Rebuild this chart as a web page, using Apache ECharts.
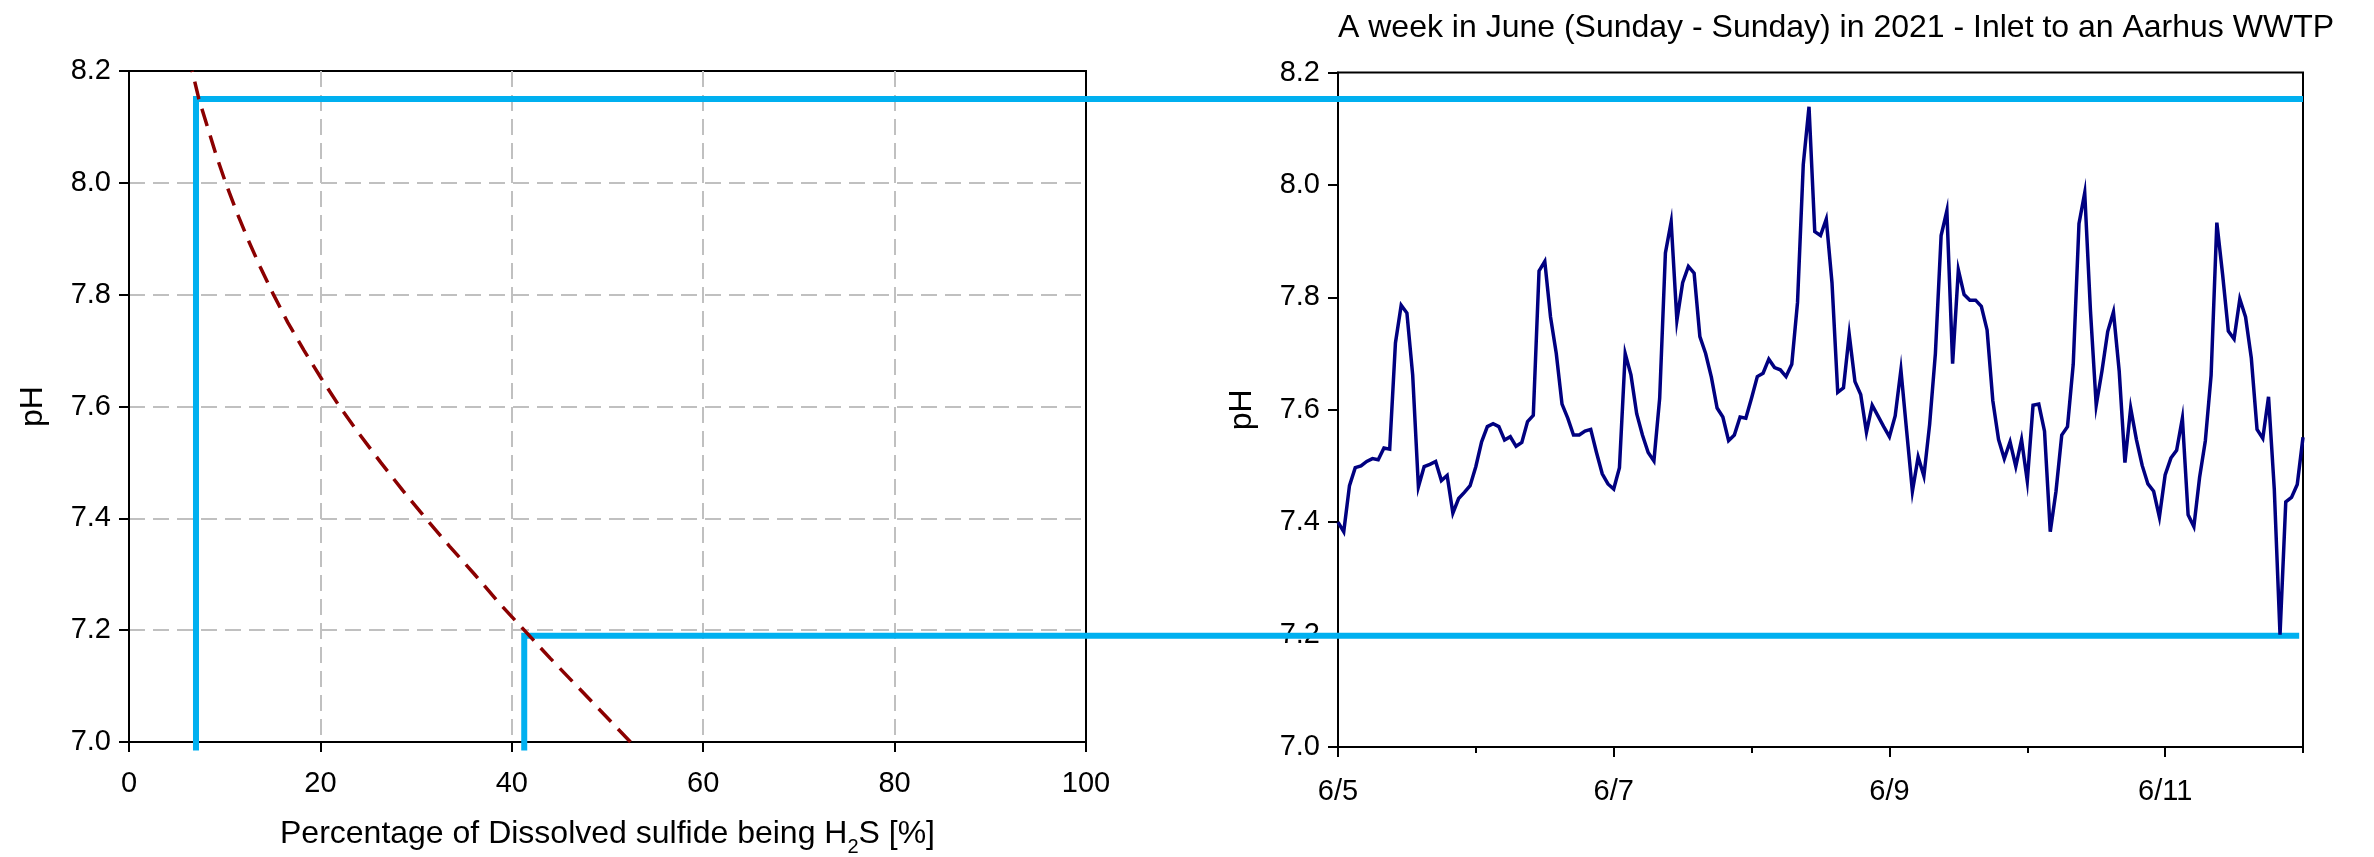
<!DOCTYPE html>
<html>
<head>
<meta charset="utf-8">
<script src="https://cdn.jsdelivr.net/npm/echarts@6/dist/echarts.min.js"></script>
<style>
  html, body { margin: 0; padding: 0; background: #fff; }
  #chart { width: 2374px; height: 857px; }
</style>
</head>
<body>
<div id="chart"></div>
<script>
// ---- Data ----
const titleText = 'A week in June (Sunday - Sunday) in 2021 - Inlet to an Aarhus WWTP';

// Left panel: pH vs % of dissolved sulfide being H2S (dashed curve)
const curvePH  = [7.00, 7.05, 7.10, 7.15, 7.20, 7.25, 7.30, 7.35, 7.40, 7.45, 7.50, 7.55, 7.60,
                  7.65, 7.70, 7.75, 7.80, 7.85, 7.90, 7.95, 8.00, 8.05, 8.10, 8.15, 8.20];
const curvePct = [52.4, 49.6, 46.8, 44.0, 41.3, 38.6, 36.1, 33.5, 31.0, 28.6, 26.3, 24.1, 22.0,
                  20.1, 18.3, 16.6, 15.1, 13.7, 12.4, 11.2, 10.1, 9.1, 8.2, 7.3, 6.6];

// Guide lines (percent H2S at max / min observed pH)
const highPH = 8.15, highPct = 7.0;
const lowPH = 7.19, lowPct = 41.3;
const guideBottom = 6.985;   // just below the axis, as in the reference

// Right panel: hourly pH, 6/5 00:00 .. 6/12 00:00
const dayLabels = ['6/5', '6/6', '6/7', '6/8', '6/9', '6/10', '6/11', '6/12'];
const hourlyPH = [
  7.400, 7.383, 7.465, 7.497, 7.500, 7.508, 7.513, 7.511, 7.532, 7.530, 7.719, 7.786,
  7.772, 7.662, 7.463, 7.499, 7.503, 7.508, 7.474, 7.483, 7.416, 7.442, 7.453, 7.465,
  7.499, 7.543, 7.570, 7.575, 7.570, 7.546, 7.552, 7.535, 7.542, 7.579, 7.590, 7.847,
  7.864, 7.765, 7.700, 7.610, 7.585, 7.555, 7.555, 7.562, 7.565, 7.524, 7.486, 7.468,
  7.459, 7.497, 7.700, 7.662, 7.593, 7.555, 7.524, 7.509, 7.620, 7.879, 7.934, 7.759,
  7.826, 7.855, 7.843, 7.730, 7.700, 7.658, 7.603, 7.587, 7.545, 7.555, 7.587, 7.585,
  7.621, 7.659, 7.665, 7.690, 7.675, 7.671, 7.659, 7.681, 7.791, 8.036, 8.139, 7.917,
  7.910, 7.939, 7.826, 7.631, 7.639, 7.734, 7.650, 7.627, 7.560, 7.608, 7.589, 7.570,
  7.552, 7.589, 7.671, 7.562, 7.455, 7.516, 7.482, 7.574, 7.700, 7.910, 7.954, 7.682,
  7.849, 7.805, 7.795, 7.795, 7.784, 7.742, 7.616, 7.547, 7.513, 7.543, 7.499, 7.547,
  7.473, 7.608, 7.610, 7.562, 7.383, 7.455, 7.555, 7.570, 7.681, 7.931, 7.986, 7.776,
  7.608, 7.669, 7.739, 7.774, 7.669, 7.506, 7.603, 7.547, 7.501, 7.468, 7.455, 7.409,
  7.484, 7.514, 7.528, 7.585, 7.413, 7.392, 7.480, 7.545, 7.661, 7.933, 7.841, 7.740,
  7.726, 7.797, 7.765, 7.692, 7.565, 7.549, 7.623, 7.459, 7.200, 7.436, 7.444, 7.467,
  7.551
];

// ---- Layout ----
const FONT = '"Liberation Sans", Arial, sans-serif';
const L = { left: 129, top: 71, width: 957, height: 671 };          // left panel
const R = { left: 1338, top: 72.5, width: 965, height: 674.5 };     // right panel
// overlay spanning both panels, same x scale as the left panel
const O = { left: L.left, top: L.top, width: R.left + R.width - L.left, height: L.height };
const overlayMax = 100 * O.width / L.width;

const chart = echarts.init(document.getElementById('chart'), null, { renderer: 'canvas' });

const axisLine = { show: true, lineStyle: { color: '#000', width: 2 } };
const gridSplit = { show: true, showMinLine: false, showMaxLine: false,
                    lineStyle: { color: '#c0c0c0', width: 2, type: [16, 8] } };
const tickLbl = { fontSize: 29, color: '#000', fontFamily: FONT };
const nameStyle = { fontSize: 32, color: '#000', fontFamily: FONT };
const tick = { show: true, length: 10, lineStyle: { color: '#000', width: 2 } };
const gridBase = { show: true, borderColor: '#000', borderWidth: 2, backgroundColor: 'transparent',
                   containLabel: false, outerBoundsMode: 'none' };

const curveData = curvePct.map((p, i) => [p, curvePH[i]]);
const seriesPH = hourlyPH.map((v, h) => [h, v]);
const blue = { color: '#00b0f0', width: 6, join: 'miter', cap: 'butt' };

const option = {
  animation: false,
  backgroundColor: '#fff',
  title: {
    text: titleText,
    left: 1333, top: 7,
    textStyle: { fontSize: 32, fontWeight: 'normal', color: '#000', fontFamily: FONT }
  },
  grid: [
    Object.assign({}, gridBase, L),
    Object.assign({}, gridBase, R),
    Object.assign({}, gridBase, { show: false }, O)
  ],
  xAxis: [
    {
      gridIndex: 0, type: 'value', position: 'bottom', min: 0, max: 100, interval: 20,
      axisLine: axisLine, axisTick: tick,
      axisLabel: Object.assign({ margin: 27 }, tickLbl),
      splitLine: gridSplit,
      name: '{a|Percentage of Dissolved sulfide being H}{sub|2}{a|S [%]}',
      nameLocation: 'middle', nameGap: 69,
      nameTextStyle: {
        fontFamily: FONT, color: '#000',
        rich: {
          a: { fontSize: 32, fontFamily: FONT, color: '#000', lineHeight: 46, verticalAlign: 'middle' },
          sub: { fontSize: 20, fontFamily: FONT, color: '#000', lineHeight: 20, verticalAlign: 'bottom' }
        }
      }
    },
    {
      gridIndex: 1, type: 'value', position: 'bottom', min: 0, max: 168, interval: 48,
      axisLine: axisLine, axisTick: tick,
      axisLabel: Object.assign({ margin: 30, showMaxLabel: false,
        formatter: v => dayLabels[Math.round(v / 24)] }, tickLbl),
      splitLine: { show: false }
    },
    {
      gridIndex: 1, type: 'value', position: 'bottom', min: 0, max: 168, interval: 24,
      axisLine: { show: false },
      axisTick: { show: true, length: 6, lineStyle: { color: '#000', width: 2 } },
      axisLabel: { show: false },
      splitLine: { show: false }
    },
    {
      gridIndex: 2, type: 'value', min: 0, max: overlayMax, show: false
    }
  ],
  yAxis: [
    {
      gridIndex: 0, type: 'value', min: 7, max: 8.2, interval: 0.2,
      axisLine: axisLine, axisTick: tick,
      axisLabel: Object.assign({ margin: 18, formatter: v => v.toFixed(1) }, tickLbl),
      splitLine: gridSplit,
      name: 'pH', nameLocation: 'middle', nameGap: 80, nameTextStyle: nameStyle
    },
    {
      gridIndex: 1, type: 'value', min: 7, max: 8.2, interval: 0.2,
      axisLine: axisLine, axisTick: tick,
      axisLabel: Object.assign({ margin: 18, formatter: v => v.toFixed(1) }, tickLbl),
      splitLine: { show: false },
      name: 'pH', nameLocation: 'middle', nameGap: 80, nameTextStyle: nameStyle
    },
    {
      gridIndex: 2, type: 'value', min: 7, max: 8.2, show: false
    }
  ],
  series: [
    {
      name: 'guide high', type: 'line', xAxisIndex: 3, yAxisIndex: 2, clip: false,
      data: [[highPct, guideBottom], [highPct, highPH], [overlayMax, highPH]],
      symbol: 'none', z: 2, lineStyle: blue
    },
    {
      name: 'guide low', type: 'line', xAxisIndex: 3, yAxisIndex: 2, clip: false,
      data: [[lowPct, guideBottom], [lowPct, lowPH], [overlayMax - 0.4, lowPH]],
      symbol: 'none', z: 2, lineStyle: blue
    },
    {
      name: 'H2S fraction', type: 'line', xAxisIndex: 0, yAxisIndex: 0,
      data: curveData, symbol: 'none', z: 3,
      lineStyle: { color: '#8b0000', width: 3.5, type: [18, 10] }
    },
    {
      name: 'pH inlet', type: 'line', xAxisIndex: 1, yAxisIndex: 1,
      data: seriesPH, symbol: 'none', z: 4,
      lineStyle: { color: '#000080', width: 3.5, join: 'miter' }
    }
  ]
};
chart.setOption(option);
</script>
</body>
</html>
